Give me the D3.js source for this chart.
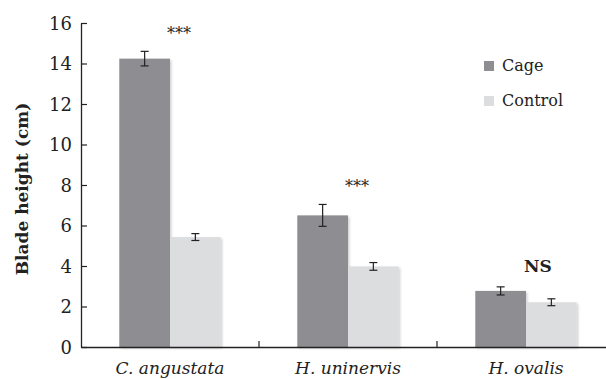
<!DOCTYPE html>
<html>
<head>
<meta charset="utf-8">
<script src="https://cdn.jsdelivr.net/npm/d3@7"></script>
<style>
  body { margin: 0; background: #fff; }
  svg { display: block; font-family: "DejaVu Serif", "Liberation Serif", serif; }
</style>
</head>
<body>
<div id="chart"></div>
<script>
// data
const species = ["C. angustata", "H. uninervis", "H. ovalis"];
const groups = ["Cage", "Control"];
const cageMean = [14.24, 6.5, 2.77];
const cageErr = [0.36, 0.54, 0.2];
const controlMean = [5.43, 3.98, 2.21];
const controlErr = [0.17, 0.19, 0.17];
const sigLabels = ["***", "***", "NS"];
const yTicks = [0, 2, 4, 6, 8, 10, 12, 14, 16];

const colors = { Cage: "#8e8e92", Control: "#dcdddf" };

const width = 606, height = 379;
const margin = { left: 81, right: -9, top: 23, bottom: 32 };

const svg = d3.select("#chart").append("svg").attr("width", width).attr("height", height);

const x = d3.scaleBand().domain(species).range([margin.left, width - margin.right]).padding(0);
const inner = d3.scaleBand().domain(groups).range([0, x.bandwidth()]).paddingInner(0).paddingOuter(0.755);
const y = d3.scaleLinear().domain([0, 16]).range([height - margin.bottom, margin.top]);

const rows = species.map((s, i) => ({
  species: s,
  sig: sigLabels[i],
  vals: [
    { group: "Cage", mean: cageMean[i], err: cageErr[i] },
    { group: "Control", mean: controlMean[i], err: controlErr[i] }
  ]
}));

// faint shadow under bars
const defs = svg.append("defs");
const f = defs.append("filter").attr("id", "shadow").attr("x", "-10%").attr("y", "-10%").attr("width", "130%").attr("height", "130%");
f.append("feDropShadow").attr("dx", 1.5).attr("dy", 1.5).attr("stdDeviation", 1.2).attr("flood-color", "#000").attr("flood-opacity", 0.18);

const g = svg.selectAll("g.cat").data(rows).join("g")
  .attr("class", "cat")
  .attr("transform", d => `translate(${x(d.species)},0)`);

g.selectAll("rect").data(d => d.vals).join("rect")
  .attr("x", d => inner(d.group))
  .attr("y", d => y(d.mean))
  .attr("width", inner.bandwidth())
  .attr("height", d => y(0) - y(d.mean))
  .attr("fill", d => colors[d.group])
  .attr("filter", "url(#shadow)");

// error bars
const eb = g.selectAll("g.err").data(d => d.vals).join("g").attr("class", "err")
  .attr("stroke", "#222").attr("stroke-width", 1.2);
const cx = d => inner(d.group) + inner.bandwidth() / 2;
eb.append("line").attr("x1", cx).attr("x2", cx).attr("y1", d => y(d.mean + d.err)).attr("y2", d => y(d.mean - d.err));
eb.append("line").attr("x1", d => cx(d) - 4).attr("x2", d => cx(d) + 4).attr("y1", d => y(d.mean + d.err)).attr("y2", d => y(d.mean + d.err));
eb.append("line").attr("x1", d => cx(d) - 4).attr("x2", d => cx(d) + 4).attr("y1", d => y(d.mean - d.err)).attr("y2", d => y(d.mean - d.err));

// significance labels
g.append("text")
  .attr("x", d => d.sig === "NS" ? x.bandwidth() / 2 + 12 : x.bandwidth() / 2 + 9)
  .attr("y", d => d.sig === "NS" ? y(d.vals[0].mean + d.vals[0].err) - 15 : y(d.vals[0].mean + d.vals[0].err) - 12)
  .attr("text-anchor", "middle")
  .attr("font-size", d => d.sig === "NS" ? 17 : 16)
  .attr("font-weight", d => d.sig === "NS" ? "bold" : "normal")
  .attr("fill", "#222")
  .text(d => d.sig);

// y axis
const yAxis = svg.append("g").attr("transform", `translate(${margin.left},0)`)
  .call(d3.axisLeft(y).tickValues(yTicks).tickSizeInner(-6).tickSizeOuter(0).tickPadding(9));
yAxis.select(".domain").attr("stroke", "#222").attr("stroke-width", 1.3);
yAxis.selectAll(".tick line").attr("stroke", "#222").attr("stroke-width", 1.2);
yAxis.selectAll(".tick text").attr("font-size", 18).attr("fill", "#222")
  .attr("font-family", "DejaVu Serif, serif").attr("dy", "0.35em");

// x axis
const xAxis = svg.append("g").attr("transform", `translate(0,${y(0)})`)
  .call(d3.axisBottom(x).tickSize(0).tickPadding(15));
xAxis.select(".domain").attr("stroke", "#222").attr("stroke-width", 1.3);
xAxis.selectAll(".tick text").attr("font-size", 17).attr("font-style", "italic").attr("fill", "#222")
  .attr("font-family", "DejaVu Serif, serif");
// boundary ticks between categories
svg.append("g").selectAll("line").data(species.slice(1)).join("line")
  .attr("x1", d => x(d)).attr("x2", d => x(d))
  .attr("y1", y(0)).attr("y2", y(0) - 6)
  .attr("stroke", "#222").attr("stroke-width", 1.2);

// y title
svg.append("text")
  .attr("transform", `translate(28,${(y(0) + y(16)) / 2 + 4}) rotate(-90)`)
  .attr("text-anchor", "middle")
  .attr("font-size", 17).attr("font-weight", "bold").attr("fill", "#222")
  .text("Blade height (cm)");

// legend
const legend = svg.append("g").attr("transform", "translate(484,61)");
const li = legend.selectAll("g").data(groups).join("g").attr("transform", (d, i) => `translate(0,${i * 35})`);
li.append("rect").attr("width", 10).attr("height", 10).attr("fill", d => colors[d]);
li.append("text").attr("x", 18).attr("y", 10).attr("font-size", 16).attr("fill", "#222").text(d => d);
</script>
</body>
</html>
